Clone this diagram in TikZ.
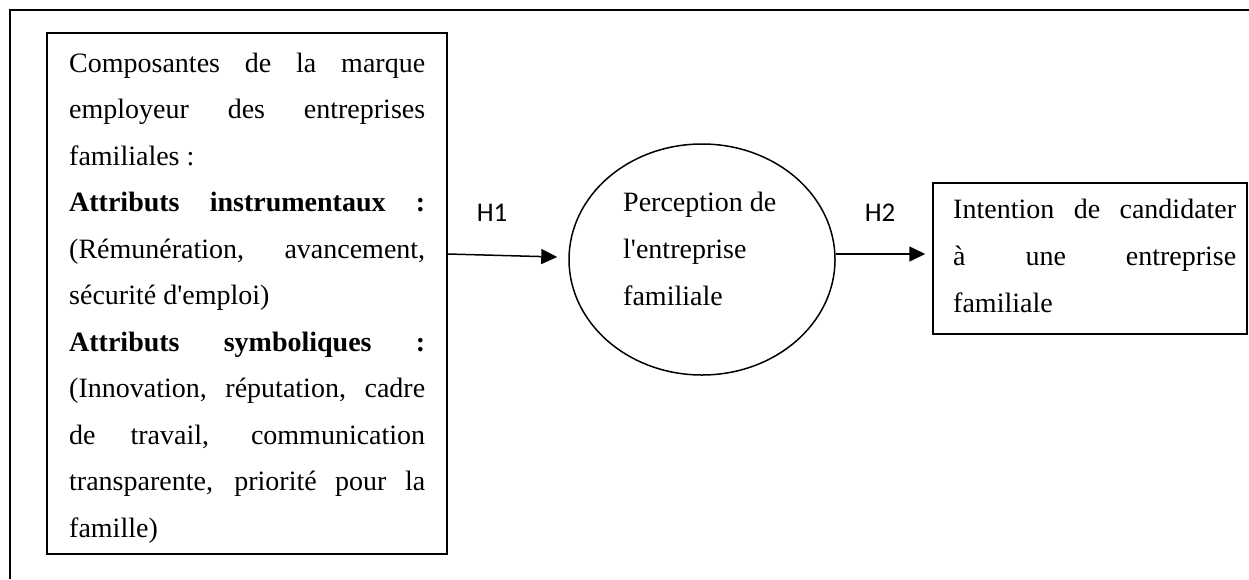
\documentclass[tikz,border=0pt]{standalone}
\usepackage{fontspec}
\newfontfamily\serifplain{Liberation Serif}
\newfontfamily\hfont{Carlito}
\usetikzlibrary{arrows.meta,calc,shapes.geometric}
\tikzset{
  frameline/.style={line width=2pt},
  boxstyle/.style={draw, line width=1.5pt, inner sep=0pt},
  ovalstyle/.style={draw, ellipse, line width=1.5pt, inner sep=0pt},
  txt/.style={anchor=base west, inner sep=0pt, font=\serifplain\fontsize{28}{34}\selectfont},
  hlabel/.style={inner sep=0pt, font=\hfont\fontsize{27}{32}\selectfont},
  arr/.style={line width=1.5pt, -{Triangle[length=16pt,width=15pt]}}
}
\newcommand{\jline}[2]{\makebox[#1][s]{#2}}
\begin{document}
\begin{tikzpicture}[x=1pt,y=-1pt]
\useasboundingbox (0,0) rectangle (1249,579);
% outer frame (open on right and bottom)
\draw[frameline] (10,579) -- (10,10) -- (1249,10);

% boxes
\node[boxstyle, minimum width=400pt, minimum height=521pt] (comp) at (247,293.5) {};
\node[ovalstyle, minimum width=266pt, minimum height=231pt] (perc) at (702,259.5) {};
\node[boxstyle, minimum width=314pt, minimum height=151pt] (intent) at (1090,258.5) {};

% left box text
\node[txt] (l1) at (69,72) {\jline{356pt}{Composantes de la marque}};
\node[txt] (l2) at (69,118.5) {\jline{356pt}{employeur des entreprises}};
\node[txt] (l3) at (69,165) {familiales :};
\node[txt] (l4) at (69,211.5) {\jline{356pt}{\bfseries Attributs instrumentaux :}};
\node[txt] (l5) at (69,258) {\jline{356pt}{(Rémunération, avancement,}};
\node[txt] (l6) at (69,304.5) {sécurité d'emploi)};
\node[txt] (l7) at (69,351) {\jline{356pt}{\bfseries Attributs symboliques :}};
\node[txt] (l8) at (69,397.5) {\jline{356pt}{(Innovation, réputation, cadre}};
\node[txt] (l9) at (69,444) {\jline{356pt}{de travail, communication}};
\node[txt] (l10) at (69,490.5) {\jline{356pt}{transparente, priorité pour la}};
\node[txt] (l11) at (69,537) {famille)};

% ellipse text
\node[txt] (p1) at (623,211) {Perception de};
\node[txt] (p2) at (623,258) {l'entreprise};
\node[txt] (p3) at (623,305) {familiale};

% right box text
\node[txt] (r1) at (953,218) {\jline{283pt}{Intention de candidater}};
\node[txt] (r2) at (953,265) {\jline{283pt}{à une entreprise}};
\node[txt] (r3) at (953,312) {familiale};

% connectors
\draw[arr] (comp.east |- 0,254) -- ($(perc.west)+(-11,-2.5)$);
\draw[arr] (perc.east |- 0,254) -- ($(intent.west |- 0,254)+(-7,0)$);

% hypothesis labels
\node[hlabel] (h1) at (492,213) {H1};
\node[hlabel] (h2) at (880,213) {H2};
\end{tikzpicture}
\end{document}
